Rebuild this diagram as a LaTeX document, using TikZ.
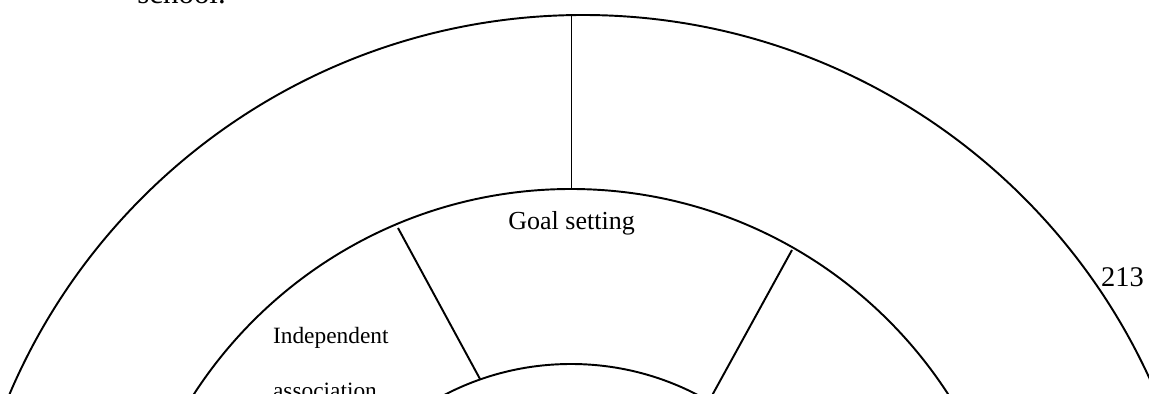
\documentclass[tikz,border=0pt]{standalone}
\usepackage{fontspec}
\setmainfont{Liberation Serif}

\begin{document}
\begin{tikzpicture}[x=0.02cm, y=-0.02cm,
  ring/.style={draw, line width=1.1pt},
  spoke/.style={draw, line width=1.1pt},
  txt/.style={inner sep=0pt, anchor=base west}
]
\useasboundingbox (0,0) rectangle (1149,394);
\clip (0,0) rectangle (1149,394);

% centres of the rings
\coordinate (outer-c) at (583,638);
\coordinate (hub) at (571,638);

\draw[ring] (outer-c) circle[radius=623];
\draw[ring] (hub) circle[radius=449];
\draw[ring] (hub) circle[radius=274];

% spokes between the rings
\coordinate (goal-top) at (571.5,15);
\coordinate (goal-bot) at (571.5,189);
\coordinate (left-top) at (398,228);
\coordinate (left-bot) at (480,379);
\coordinate (right-top) at (792,250);
\coordinate (right-bot) at (709,401);

\draw[spoke] (goal-top) -- (goal-bot);
\draw[spoke] (left-top) -- (left-bot);
\draw[spoke] (right-top) -- (right-bot);

\node[txt, font=\fontsize{17.6}{20}\selectfont] (school) at (137,4) {school.};
\node[txt, font=\fontsize{16.2}{19}\selectfont] (page) at (1100.7,287) {213};
\node[txt, font=\fontsize{14.8}{17}\selectfont] (goal) at (508,230) {Goal setting};
\node[txt, font=\fontsize{13.3}{15}\selectfont] (indep) at (272.7,344) {Independent};
\node[txt, font=\fontsize{13.3}{15}\selectfont] (assoc) at (272.7,399) {association};

\end{tikzpicture}
\end{document}
